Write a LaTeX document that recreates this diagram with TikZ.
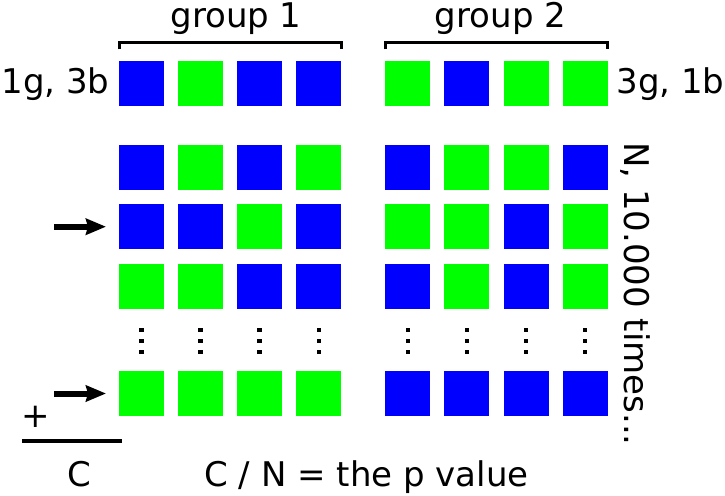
\documentclass[tikz,border=0pt]{standalone}
\usepackage{fontspec}
\setmainfont{DejaVu Sans}
\usetikzlibrary{arrows.meta}
\definecolor{cblue}{RGB}{0,0,255}
\definecolor{cgreen}{RGB}{0,255,0}

\begin{document}
\begin{tikzpicture}[x=1pt,y=-1pt,
  cell/.style={minimum size=45pt, inner sep=0pt, outer sep=0pt, draw=none},
  B/.style={cell, fill=cblue},
  G/.style={cell, fill=cgreen},
  lbl/.style={inner sep=0pt, outer sep=0pt, font=\fontsize{34pt}{41pt}\selectfont},
  vdot/.style={fill=black, minimum size=4.5pt, inner sep=0pt, outer sep=0pt},
  bigarrow/.style={line width=6pt, -{Stealth[length=20pt,width=16pt,inset=2pt]}, shorten >=13pt},
  bracketline/.style={line width=3pt, line join=miter},
  rule/.style={line width=4pt},
]
\useasboundingbox (0,0) rectangle (725,495);

% grid of coloured squares: row / centre y / colours of the eight columns
\foreach \r/\y/\pat in {
    1/83.2/{B,G,B,B,G,B,G,G},
    2/167.8/{B,G,B,G,B,G,G,B},
    3/226.7/{B,B,G,B,G,G,B,G},
    4/286/{G,G,B,B,B,G,B,G},
    5/393.5/{G,G,G,G,B,B,B,B}}{
  \foreach \c [count=\i] in \pat {
    \pgfmathsetmacro\cx{\i<5 ? 141.5+59.1*(\i-1) : 407.8+59.1*(\i-5)}
    \node[\c] (s\r-\i) at (\cx,\y) {};
  }
}

% vertical ellipsis under each column
\foreach \i in {1,...,8}{
  \pgfmathsetmacro\cx{\i<5 ? 141.5+59.1*(\i-1) : 407.8+59.1*(\i-5)}
  \node[vdot] (d\i-a) at (\cx,330) {};
  \node[vdot] (d\i-b) at (\cx,341) {};
  \node[vdot] (d\i-c) at (\cx,352) {};
}

% group brackets and titles
\draw[bracketline] (119,49.5) -- (119,42.5) -- (341.3,42.5) -- (341.3,49.5);
\draw[bracketline] (385.3,49.5) -- (385.3,42.5) -- (607.6,42.5) -- (607.6,49.5);
\node[lbl, anchor=base] (g1) at (236,27.5) {group 1};
\node[lbl, anchor=base] (g2) at (500.5,27.5) {group 2};

% observed counts
\node[lbl, anchor=base] (obs1) at (55.5,93) {1g, 3b};
\node[lbl, anchor=base] (obs2) at (670.5,93) {3g, 1b};

% repetitions
\node[lbl, anchor=base west, rotate=-90] (rep) at (624,142) {N, 10.000 times...};

% rows counted as at least as extreme
\coordinate (a1) at (54,226.7);
\coordinate (a2) at (54,393.5);
\draw[bigarrow] (a1) -- (s3-1.west);
\draw[bigarrow] (a2) -- (s5-1.west);

% summation
\node[lbl, anchor=base] (plus) at (36,427) {+};
\coordinate (r1) at (22,441);
\coordinate (r2) at (122,441);
\draw[rule] (r1) -- (r2);
\node[lbl, anchor=base] (csum) at (79,486.5) {C};
\node[lbl, anchor=base] (pval) at (366.5,486.5) {C / N = the p value};
\end{tikzpicture}
\end{document}
